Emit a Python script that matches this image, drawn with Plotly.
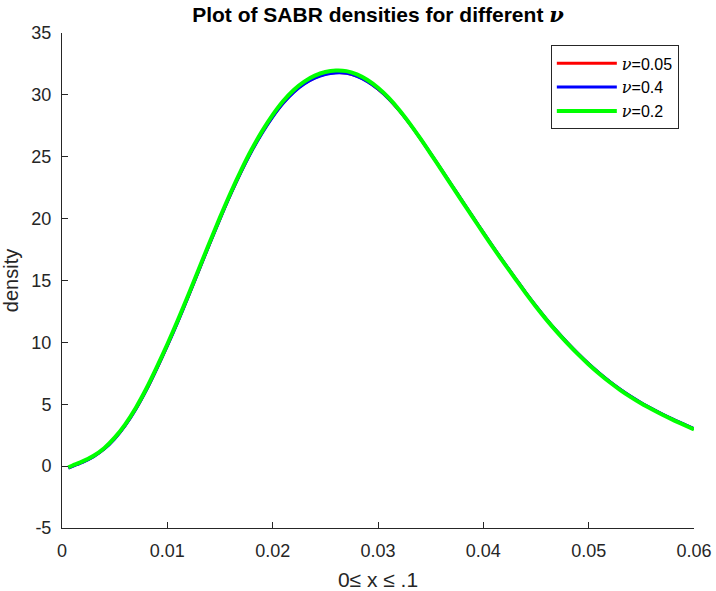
import plotly.graph_objects as go

# x grid (0 <= x <= .06 shown)
x_vals = [0.0006, 0.001, 0.002, 0.003, 0.004, 0.005, 0.006, 0.007, 0.008, 0.009,
          0.010, 0.011, 0.012, 0.013, 0.014, 0.015, 0.016, 0.017, 0.018, 0.019,
          0.020, 0.021, 0.022, 0.023, 0.024, 0.025, 0.026, 0.027, 0.028, 0.029,
          0.030, 0.031, 0.032, 0.033, 0.034, 0.035, 0.036, 0.037, 0.038, 0.039,
          0.040, 0.041, 0.042, 0.043, 0.044, 0.045, 0.046, 0.047, 0.048, 0.049,
          0.050, 0.051, 0.052, 0.053, 0.054, 0.055, 0.056, 0.057, 0.058, 0.059,
          0.060]

dens_nu005 = [-0.14, 0.01, 0.35, 0.79, 1.39, 2.23, 3.30, 4.61, 6.15, 7.89,
              9.74, 11.69, 13.74, 15.84, 17.94, 19.99, 21.96, 23.79, 25.46, 26.94,
              28.24, 29.35, 30.24, 30.91, 31.38, 31.68, 31.80, 31.76, 31.51, 31.08,
              30.47, 29.70, 28.75, 27.67, 26.49, 25.25, 23.98, 22.70, 21.42, 20.14,
              18.87, 17.62, 16.40, 15.22, 14.04, 12.92, 11.86, 10.87, 9.94, 9.07,
              8.26, 7.51, 6.82, 6.19, 5.62, 5.10, 4.63, 4.19, 3.78, 3.39,
              3.01]

dens_nu04 = [-0.16, -0.01, 0.33, 0.77, 1.37, 2.20, 3.27, 4.58, 6.12, 7.86,
             9.71, 11.66, 13.71, 15.81, 17.91, 19.96, 21.93, 23.76, 25.43, 26.91,
             28.21, 29.32, 30.21, 30.88, 31.35, 31.65, 31.77, 31.74, 31.50, 31.07,
             30.47, 29.70, 28.76, 27.68, 26.51, 25.27, 24.00, 22.72, 21.44, 20.16,
             18.89, 17.64, 16.42, 15.24, 14.06, 12.94, 11.88, 10.89, 9.96, 9.09,
             8.28, 7.53, 6.84, 6.21, 5.64, 5.12, 4.65, 4.21, 3.80, 3.41,
             3.03]

dens_nu02 = [-0.10, 0.05, 0.40, 0.84, 1.45, 2.30, 3.38, 4.70, 6.25, 8.00,
             9.85, 11.80, 13.85, 15.95, 18.05, 20.10, 22.07, 23.90, 25.58, 27.07,
             28.38, 29.50, 30.40, 31.07, 31.55, 31.85, 31.97, 31.92, 31.65, 31.20,
             30.57, 29.77, 28.80, 27.70, 26.50, 25.24, 23.96, 22.67, 21.38, 20.10,
             18.83, 17.58, 16.36, 15.18, 14.00, 12.88, 11.82, 10.83, 9.90, 9.03,
             8.22, 7.47, 6.78, 6.15, 5.58, 5.06, 4.59, 4.15, 3.74, 3.35,
             2.97]

nu_labels = ["0.05", "0.4", "0.2"]
series = [dens_nu005, dens_nu04, dens_nu02]
colors = ["#ff0000", "#0000ff", "#00ff00"]
widths = [3, 3, 4]

x_ticks = [0, 0.01, 0.02, 0.03, 0.04, 0.05, 0.06]
x_ticktext = ["0", "0.01", "0.02", "0.03", "0.04", "0.05", "0.06"]
y_ticks = [-5, 0, 5, 10, 15, 20, 25, 30, 35]
y_ticktext = ["-5", "0", "5", "10", "15", "20", "25", "30", "35"]

AX = "#262626"
SERIF = "font-family:\"DejaVu Serif\", serif"
NU = "<span style='" + SERIF + "'><i>ν</i></span>"

fig = go.Figure()
for i, (lab, ys, c, w) in enumerate(zip(nu_labels, series, colors, widths)):
    fig.add_trace(go.Scatter(
        x=x_vals, y=ys, mode="lines",
        line=dict(color=c, width=w, shape="spline", smoothing=0.8),
        name=NU + "=" + lab,
        legendgroup="g%d" % i,
    ))

fig.update_layout(
    width=716, height=591,
    margin=dict(l=62, r=22, t=33, b=63, autoexpand=False),
    paper_bgcolor="white", plot_bgcolor="white",
    font=dict(family="Liberation Sans, Arial, sans-serif", color=AX, size=18),
    title=dict(
        text="<b>Plot of SABR densities for different </b>" +
             "<span style='" + SERIF + "'><b><i>ν</i></b></span>",
        x=(62 + 694) / 2 / 716, xanchor="center",
        y=1 - 15 / 591, yanchor="middle",
        font=dict(size=21, color="black"),
    ),
    showlegend=True,
    legend=dict(
        x=0.976, xanchor="right", y=0.975, yanchor="top",
        bordercolor=AX, borderwidth=1, bgcolor="white",
        font=dict(size=16, color="black"),
        tracegroupgap=0,
        itemwidth=60,
    ),
)
fig.update_xaxes(
    range=[0, 0.06], tickmode="array", tickvals=x_ticks, ticktext=x_ticktext,
    showline=True, linecolor=AX, linewidth=1, mirror=False,
    ticks="inside", ticklen=6, tickcolor=AX,
    showgrid=False, zeroline=False, automargin=False,
    tickfont=dict(size=18, color=AX), ticklabelstandoff=6,
    title=dict(text="0≤ x ≤ .1", font=dict(size=21, color=AX), standoff=12),
)
fig.update_yaxes(
    range=[-5, 35], tickmode="array", tickvals=y_ticks, ticktext=y_ticktext,
    showline=True, linecolor=AX, linewidth=1, mirror=False,
    ticks="inside", ticklen=6, tickcolor=AX,
    showgrid=False, zeroline=False, automargin=False,
    tickfont=dict(size=18, color=AX), ticklabelstandoff=6,
    title=dict(text="density", font=dict(size=20, color=AX), standoff=8),
)

fig.write_html("out.html")
